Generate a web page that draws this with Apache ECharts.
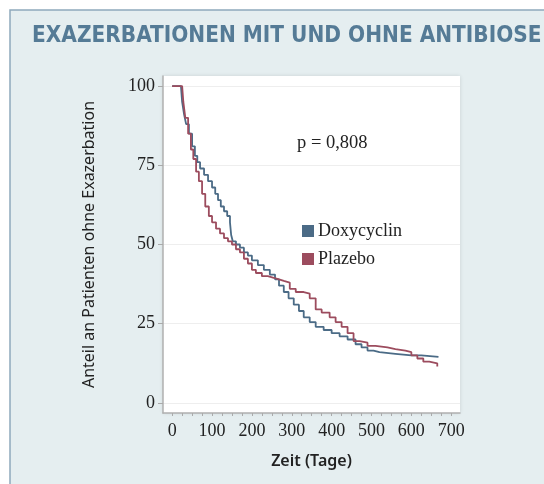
<!DOCTYPE html>
<html>
<head>
<meta charset="utf-8">
<script src="https://cdn.jsdelivr.net/npm/echarts@6/dist/echarts.min.js"></script>
<style>
  html, body { margin: 0; padding: 0; background: #fff; }
  #chart { width: 544px; height: 484px; }
</style>
</head>
<body>
<div id="chart"></div>
<script>
// Kaplan-Meier Werte (Tage, Anteil %)
const doxyTage = [0, 22, 25, 30, 35, 42, 50, 57, 63, 70, 80, 90, 100, 108, 115, 122, 130, 138, 145, 148, 152, 160, 170, 180, 190, 200, 215, 230, 245, 258, 268, 280, 292, 305, 318, 330, 345, 360, 380, 400, 420, 440, 460, 475, 490, 505, 520, 560, 600, 625, 668];
const doxyWerte = [100, 100, 95, 91, 88, 85, 81, 78, 76, 74, 72, 70, 68, 66, 64, 62, 60.5, 59, 57, 53, 51, 50, 49, 47.5, 46.5, 45, 43.5, 42, 40.5, 39, 37, 35, 33, 31, 29, 27, 25.5, 24, 23, 22, 21, 20, 18.5, 17.5, 16.5, 16, 15.5, 15, 15, 14.5, 14.5];
const plazeboTage = [0, 25, 28, 33, 40, 47, 53, 60, 67, 75, 83, 92, 100, 110, 120, 130, 140, 150, 160, 170, 180, 190, 200, 210, 225, 240, 255, 268, 280, 295, 310, 330, 345, 360, 375, 395, 410, 425, 440, 455, 470, 490, 510, 540, 560, 585, 600, 615, 630, 645, 665];
const plazeboWerte = [100, 100, 95, 90, 85, 80, 77, 73, 70, 66, 62, 59, 57, 55, 53.5, 52, 51, 50, 48.5, 47.5, 45.5, 44, 42, 41, 40, 39.5, 39, 38.5, 38, 36, 35, 34.5, 33, 29.5, 28.5, 27, 25.5, 24, 22, 19.5, 19, 18, 17.5, 17, 16.5, 16, 15, 14, 13, 12.5, 11.5];
const xLabels = [0, 100, 200, 300, 400, 500, 600, 700];
const xTicks = [0, 25, 50, 75, 100, 125, 150, 175, 200, 225, 250, 275, 300, 325, 350, 375, 400, 425, 450, 475, 500, 525, 550, 575, 600, 625, 650, 675, 700];
const yLabels = [0, 25, 50, 75, 100];

const zip = (a, b) => a.map((v, i) => [v, b[i]]);

const chart = echarts.init(document.getElementById('chart'));
const serif = '"Liberation Serif", "DejaVu Serif", serif';
const sans = '"Noto Sans", "Open Sans", sans-serif';

chart.setOption({
    animation: false,
    graphic: [
        {
            type: 'rect', z: -10,
            shape: { x: 10, y: 10, width: 560, height: 500 },
            style: { fill: '#e5eef0', stroke: '#8ea9bc', lineWidth: 1.5 }
        },
        {
            type: 'text', left: 297, top: 134,
            style: { text: 'p = 0,808', font: '18.5px ' + serif, fill: '#222' }
        }
    ],
    title: {
        text: 'EXAZERBATIONEN MIT UND OHNE ANTIBIOSE',
        left: 27, top: 20,
        textStyle: {
            fontFamily: '"DejaVu Sans Condensed", "DejaVu Sans", sans-serif',
            fontWeight: 'bold', fontSize: 22.4, color: '#557b96'
        }
    },
    legend: {
        orient: 'vertical',
        left: 297, top: 217,
        itemWidth: 12, itemHeight: 12, itemGap: 10,
        icon: 'rect',
        textStyle: { fontFamily: serif, fontSize: 18, color: '#222', padding: [0, 0, 0, -1] },
        data: ['Doxycyclin', 'Plazebo']
    },
    grid: {
        left: 163, right: 84, top: 76, bottom: 71,
        show: true, backgroundColor: '#fff', borderWidth: 0,
        shadowBlur: 4, shadowColor: 'rgba(0,0,0,0.12)'
    },
    xAxis: {
        type: 'value', min: -23, max: 722,
        name: 'Zeit (Tage)', nameLocation: 'middle', nameGap: 40,
        nameTextStyle: { fontFamily: sans, fontSize: 16, fontWeight: 600, color: '#222' },
        axisLine: { onZero: false, lineStyle: { color: '#b0b0b0', width: 1.5 } },
        axisTick: { customValues: xTicks, length: 3, lineStyle: { color: '#aaa' } },
        axisLabel: { customValues: xLabels, fontFamily: serif, fontSize: 18, color: '#222', margin: 9 },
        splitLine: { show: false }
    },
    yAxis: {
        type: 'value', min: -3.2, max: 103.2,
        name: 'Anteil an Patienten ohne Exazerbation', nameLocation: 'middle', nameGap: 66,
        nameTextStyle: { fontFamily: sans, fontSize: 16, color: '#222' },
        axisLine: { show: true, onZero: false, lineStyle: { color: '#b0b0b0', width: 1.5 } },
        axisTick: { show: true, customValues: yLabels, length: 5, lineStyle: { color: '#aaa' } },
        axisLabel: { customValues: yLabels, fontFamily: serif, fontSize: 18, color: '#222', margin: 8 },
        splitLine: { show: true, lineStyle: { color: '#eeeeee', width: 1 } }
    },
    series: [
        {
            name: 'Doxycyclin', type: 'line', step: 'end', symbol: 'none',
            data: zip(doxyTage, doxyWerte),
            itemStyle: { color: '#4b6b86' },
            lineStyle: { color: '#4b6b86', width: 1.8 }
        },
        {
            name: 'Plazebo', type: 'line', step: 'end', symbol: 'none',
            data: zip(plazeboTage, plazeboWerte),
            itemStyle: { color: '#9c4c5e' },
            lineStyle: { color: '#9c4c5e', width: 1.8 }
        }
    ]
});
</script>
</body>
</html>
